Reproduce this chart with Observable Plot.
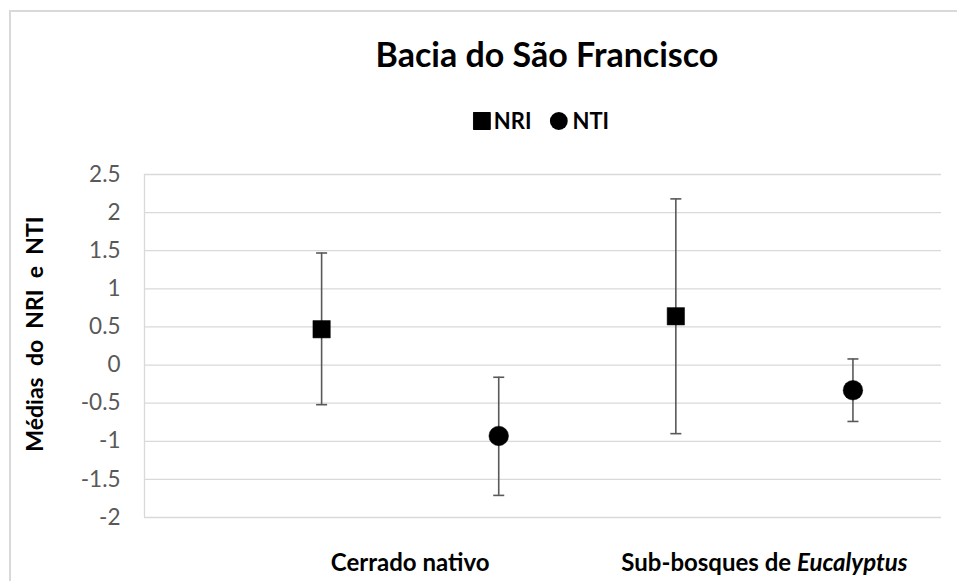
<!DOCTYPE html>
<html>
<head>
<meta charset="utf-8">
<script src="https://cdn.jsdelivr.net/npm/d3@7"></script>
<script src="https://cdn.jsdelivr.net/npm/@observablehq/plot@0.6"></script>
<style>
  body { margin: 0; background: #fff; font-family: Lato, "Open Sans", sans-serif; }
  #wrap { position: relative; width: 957px; height: 581px; overflow: hidden; background: #fff; }
  #frame { position: absolute; left: 9px; top: 10px; width: 1000px; height: 1000px; border: 2px solid #d9d9d9; box-sizing: border-box; pointer-events: none; z-index: 2; }
  #header { position: relative; height: 150px; }
  #title { position: absolute; left: 547px; top: 37px; transform: translateX(-50%); font-weight: 700; font-size: 34px; line-height: 1; white-space: nowrap; color: #000; }
  #legend { position: absolute; left: 541px; top: 111px; transform: translateX(-50%); display: flex; align-items: center; font-weight: 700; font-size: 22px; line-height: 20px; white-space: nowrap; color: #000; }
  #legend svg { display: block; }
  #chart svg { display: block; }
</style>
</head>
<body>
<div id="wrap">
  <div id="frame"></div>
  <div id="header">
    <div id="title">Bacia do São Francisco</div>
    <div id="legend"></div>
  </div>
  <div id="chart"></div>
</div>
<script>
// ---- data ----
const categories = ["Cerrado nativo", "Sub-bosques de Eucalyptus"];
const series = ["NRI", "NTI"];
const nriMean = [0.47, 0.64];
const nriLow = [-0.52, -0.90];
const nriHigh = [1.47, 2.18];
const ntiMean = [-0.93, -0.33];
const ntiLow = [-1.71, -0.74];
const ntiHigh = [-0.16, 0.08];
const yTicks = [-2, -1.5, -1, -0.5, 0, 0.5, 1, 1.5, 2, 2.5];
const yLabel = "Médias  do  NRI  e  NTI";
const title = "Bacia do São Francisco";

// ---- table ----
const stats = { NRI: [nriMean, nriLow, nriHigh], NTI: [ntiMean, ntiLow, ntiHigh] };
const rows = [];
categories.forEach((c, i) => {
  series.forEach((s, j) => {
    rows.push({ category: c, series: s, pos: i * series.length + j + 1,
      mean: stats[s][0][i], low: stats[s][1][i], high: stats[s][2][i] });
  });
});
const labelPos = categories.map((c, i) => i * series.length + (series.length + 1) / 2);
const xMax = categories.length * series.length + 0.5;

document.getElementById("title").textContent = title;

// legend
const legend = document.getElementById("legend");
series.forEach((s, j) => {
  const item = document.createElement("span");
  item.style.display = "flex";
  item.style.alignItems = "center";
  item.style.marginRight = j === 0 ? "18px" : "0";
  const shape = j === 0
    ? '<svg width="18" height="18"><rect x="0.5" y="0.5" width="17" height="17" fill="#000" stroke="#000" stroke-linejoin="round"/></svg>'
    : '<svg width="18" height="18"><circle cx="9" cy="9" r="9" fill="#000"/></svg>';
  item.innerHTML = shape + '<span style="margin-left:' + (j === 0 ? 3 : 5) + 'px">' + s + '</span>';
  legend.appendChild(item);
});

// cap symbol (horizontal line)
const capSymbol = { draw(ctx, size) { const r = Math.sqrt(size / Math.PI); ctx.moveTo(-r, 0); ctx.lineTo(r, 0); } };

const chart = Plot.plot({
  width: 957,
  height: 431,
  marginTop: 24,
  marginBottom: 64,
  marginLeft: 144,
  marginRight: 16,
  x: { domain: [0, xMax], axis: null },
  y: { domain: [d3.min(yTicks), d3.max(yTicks)], axis: null },
  symbol: { domain: series, range: ["square", "circle"] },
  style: { fontFamily: "Lato, 'Open Sans', sans-serif", background: "transparent", overflow: "visible" },
  marks: [
    Plot.gridY(yTicks, { stroke: "#d9d9d9", strokeOpacity: 1, strokeWidth: 1.3 }),
    Plot.ruleX([0], { stroke: "#d9d9d9", strokeWidth: 1.3 }),
    Plot.axisY(yTicks, { tickSize: 0, tickPadding: 24, tickFormat: d => String(d), fontSize: 22.5, color: "#595959", label: null }),
    Plot.axisX(labelPos, { tickSize: 0, tickPadding: 36, tickFormat: d => categories[labelPos.indexOf(d)], fontSize: 24, fontWeight: "bold", color: "#000", label: null }),
    Plot.text([yLabel], { frameAnchor: "left", textAnchor: "middle", rotate: -90, dx: -109, dy: -12, fontSize: 23, fontWeight: "bold", fill: "#000" }),
    Plot.ruleX(rows, { x: "pos", y1: "low", y2: "high", stroke: "#595959", strokeWidth: 1.6 }),
    Plot.dot(rows, { x: "pos", y: "low", symbol: capSymbol, r: 5.5, stroke: "#595959", strokeWidth: 1.6, fill: "none" }),
    Plot.dot(rows, { x: "pos", y: "high", symbol: capSymbol, r: 5.5, stroke: "#595959", strokeWidth: 1.6, fill: "none" }),
    Plot.dot(rows, { x: "pos", y: "mean", symbol: "series", r: 9.8, fill: "#000", stroke: "#000", strokeWidth: 0.5, strokeLinejoin: "round" })
  ]
});
document.getElementById("chart").appendChild(chart);

// italic genus name; preserve double spaces of axis title
d3.select(chart).selectAll("text").each(function () {
  if (this.textContent === categories[1]) {
    const t = d3.select(this);
    t.text("");
    t.append("tspan").text("Sub-bosques de ");
    t.append("tspan").attr("font-style", "italic").text("Eucalyptus");
  }
  if (this.textContent === yLabel) {
    this.setAttribute("xml:space", "preserve");
    this.style.whiteSpace = "pre";
  }
});
</script>
</body>
</html>
